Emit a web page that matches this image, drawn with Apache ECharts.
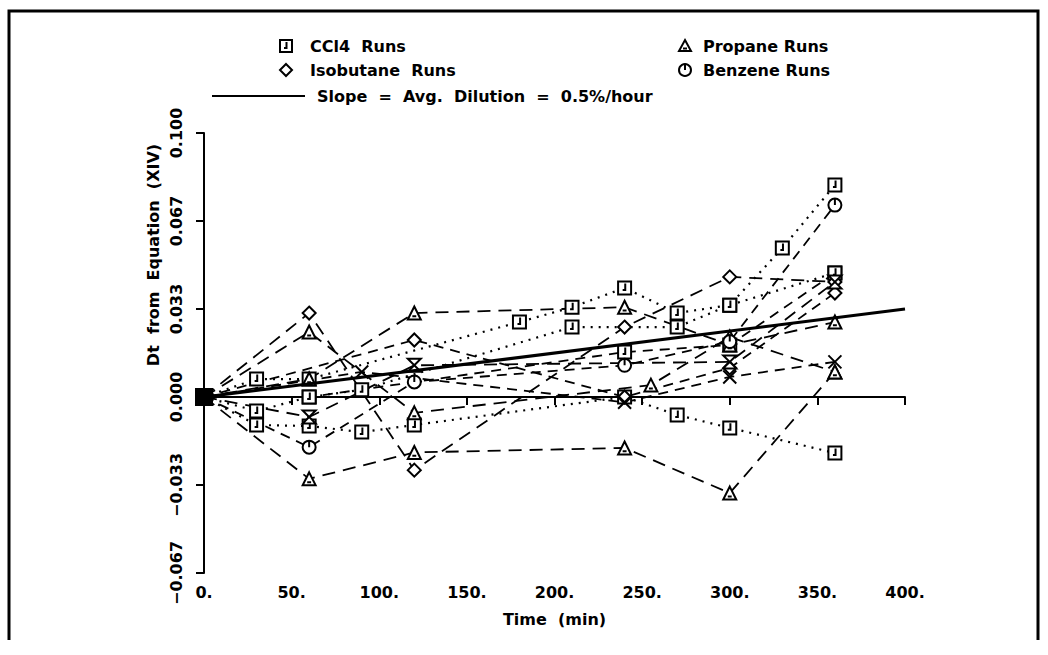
<!DOCTYPE html>
<html><head><meta charset="utf-8">
<script src="https://cdn.jsdelivr.net/npm/echarts@6/dist/echarts.min.js"></script>
<style>html,body{margin:0;padding:0;background:#fff}#c{width:1048px;height:655px}</style>
</head><body><div id="c"></div>
<script>
// ---- data ----
const xTickLabels = ['0.', '50.', '100.', '150.', '200.', '250.', '300.', '350.', '400.'];
const yTickLabels = ['\u22120.067', '\u22120.033', '0.000', '0.033', '0.067', '0.100'];

const ccl4Run1 = [[0,0],[30,-0.0106],[60,-0.011],[90,-0.0133],[120,-0.0106],[240,0.0],[270,-0.0068],[300,-0.0117],[360,-0.0212]];
const ccl4Run2 = [[0,0],[30,0.0068],[60,0.0068],[180,0.0284],[210,0.034],[240,0.0413],[270,0.0318],[300,0.0348],[330,0.0564],[360,0.0803]];
const ccl4Run3 = [[0,0],[30,-0.0053],[60,0.0],[90,0.0027],[210,0.0265],[270,0.0265],[300,0.0348],[360,0.047]];
const ccl4Run4 = [[0,0],[60,0.0],[240,0.017],[300,0.0197],[360,0.047]];

const propaneRun1 = [[0,0],[60,-0.031],[120,-0.021],[240,-0.0193],[300,-0.0364],[360,0.0095]];
const propaneRun2 = [[0,0],[60,0.0246],[120,-0.006],[255,0.0045],[300,0.0227],[360,0.0095]];
const propaneRun3 = [[0,0],[60,0.0068],[120,0.0318],[240,0.034],[300,0.0197],[360,0.0284]];

const isobutaneRun1 = [[0,0],[60,0.0318],[120,-0.0277],[240,0.0265],[300,0.0455],[360,0.0436]];
const isobutaneRun2 = [[0,0],[120,0.0216],[240,0.0],[300,0.011],[360,0.0394]];

const benzeneRun1 = [[0,0],[60,-0.019],[120,0.0057],[240,0.012],[300,0.021],[360,0.0727]];

const otherRun1 = [[0,0],[90,0.0095],[240,-0.002],[300,0.0076],[360,0.0133]];
const otherRun2 = [[0,0],[60,-0.0076],[120,0.012],[300,0.0133],[360,0.0436]];

const slopeLine = [[0,0],[400,0.0333]];
const originPoint = [[0,0]];

// ---- symbols ----
const sq = 'path://M0,0L10,0L10,10L0,10Z M5.5,1.5L5.5,6.5L3.5,6.5';
const tri = 'path://M5,0L10,9L0,9Z M3.5,6.8L6.5,6.8';
const circ = 'path://M10,5A5,5,0,1,1,0,5A5,5,0,1,1,10,5Z M5,0L5,5';
const dia = 'path://M5,0L10,5L5,10L0,5Z';
const hour = 'path://M0,0L10,0L0,10L10,10Z';
const xs = 'path://M0,0L10,10M10,0L0,10';

const FONT = '"DejaVu Sans", "Liberation Sans", sans-serif';

function run(name, data, symbol, dash, lw) {
  return {
    name: name, type: 'line',
    // the shared start point is drawn by the filled origin marker
    data: data.map((p, i) => (p[0] === 0 ? {value: p, symbol: 'none'} : p)),
    symbol: symbol, symbolSize: 13,
    showAllSymbol: true,
    lineStyle: {color: '#000', width: lw || 1.8, type: dash},
    itemStyle: {color: '#fff', borderColor: '#000', borderWidth: 2},
    animation: false, z: 3
  };
}
const dotted = [2, 6];
const dashL = [13, 8];
const dashM = [10, 7];

const series = [
  run('CCl4 Runs', ccl4Run1, sq, dotted, 2.2),
  run('CCl4 Runs', ccl4Run2, sq, dotted, 2.2),
  run('CCl4 Runs', ccl4Run3, sq, dotted, 2.2),
  run('CCl4 Runs', ccl4Run4, sq, dashM),
  run('Propane Runs', propaneRun1, tri, dashL),
  run('Propane Runs', propaneRun2, tri, dashL),
  run('Propane Runs', propaneRun3, tri, dashL),
  run('Isobutane Runs', isobutaneRun1, dia, dashL),
  run('Isobutane Runs', isobutaneRun2, dia, dashM),
  run('Benzene Runs', benzeneRun1, circ, dashM),
  run('Other Runs', otherRun1, xs, dashM),
  run('Other Runs', otherRun2, hour, dashL),
  {name: 'Slope', type: 'line', data: slopeLine, symbol: 'none',
   lineStyle: {color: '#000', width: 3, type: 'solid'}, animation: false, z: 4},
  {name: 'Origin', type: 'scatter', data: originPoint, symbol: 'rect', symbolSize: 18,
   itemStyle: {color: '#000', opacity: 1}, animation: false, z: 20}
];

const st = {fill: '#fff', stroke: '#000', lineWidth: 2};
const ln = {stroke: '#000', lineWidth: 2};
const tf = 'bold 16px ' + FONT;

const chart = echarts.init(document.getElementById('c'), null, {renderer: 'svg'});
chart.setOption({
  backgroundColor: '#fff',
  animation: false,
  grid: {left: 204, right: 143, top: 133, bottom: 82, containLabel: false},
  xAxis: {
    type: 'value', min: 0, max: 400, interval: 50,
    name: 'Time  (min)', nameLocation: 'middle', nameGap: 38,
    nameTextStyle: {fontFamily: FONT, fontWeight: 'bold', fontSize: 16, color: '#000'},
    axisLine: {lineStyle: {color: '#000', width: 2}},
    axisTick: {inside: false, length: 8, lineStyle: {color: '#000', width: 2}},
    axisLabel: {margin: 11, fontFamily: FONT, fontWeight: 'bold', fontSize: 16, color: '#000',
      formatter: (v, i) => xTickLabels[i]},
    splitLine: {show: false}
  },
  yAxis: {
    type: 'value', min: -2/30, max: 0.1, interval: 1/30,
    axisLine: {show: true, lineStyle: {color: '#000', width: 2}},
    axisTick: {show: true, inside: false, length: 8, lineStyle: {color: '#000', width: 2}},
    axisLabel: {rotate: 90, margin: 20, fontFamily: FONT, fontWeight: 'bold', fontSize: 16, color: '#000',
      formatter: (v, i) => yTickLabels[i]},
    splitLine: {show: false}
  },
  series: series,
  graphic: [
    {type: 'polyline', shape: {points: [[9, 640], [9, 11], [1038, 11], [1038, 640]]},
     style: {stroke: '#000', lineWidth: 3, fill: null}},
    {type: 'text', x: 153, y: 255, rotation: Math.PI / 2,
     style: {text: 'Dt  from  Equation  (XIV)', font: tf, fill: '#000', align: 'center', verticalAlign: 'middle'}},
    // legend: square
    {type: 'rect', shape: {x: 280, y: 40, width: 12, height: 12}, style: st},
    {type: 'polyline', shape: {points: [[286.5, 42], [286.5, 48], [284, 48]]}, style: ln},
    {type: 'text', x: 310, y: 46, style: {text: 'CCl4  Runs', font: tf, fill: '#000', verticalAlign: 'middle'}},
    // triangle
    {type: 'polygon', shape: {points: [[685, 40], [691, 51], [679, 51]]}, style: st},
    {type: 'line', shape: {x1: 683, y1: 48.5, x2: 687, y2: 48.5}, style: ln},
    {type: 'text', x: 703, y: 46, style: {text: 'Propane Runs', font: tf, fill: '#000', verticalAlign: 'middle'}},
    // diamond
    {type: 'polygon', shape: {points: [[286, 64], [292, 70], [286, 76], [280, 70]]}, style: st},
    {type: 'text', x: 310, y: 70, style: {text: 'Isobutane  Runs', font: tf, fill: '#000', verticalAlign: 'middle'}},
    // circle
    {type: 'circle', shape: {cx: 685, cy: 70, r: 6}, style: st},
    {type: 'line', shape: {x1: 685, y1: 64, x2: 685, y2: 70}, style: ln},
    {type: 'text', x: 703, y: 70, style: {text: 'Benzene Runs', font: tf, fill: '#000', verticalAlign: 'middle'}},
    // slope line
    {type: 'line', shape: {x1: 212, y1: 96, x2: 305, y2: 96}, style: {stroke: '#000', lineWidth: 2}},
    {type: 'text', x: 317, y: 96, style: {text: 'Slope  =  Avg.  Dilution  =  0.5%/hour', font: tf, fill: '#000', verticalAlign: 'middle'}}
  ]
});
</script></body></html>
